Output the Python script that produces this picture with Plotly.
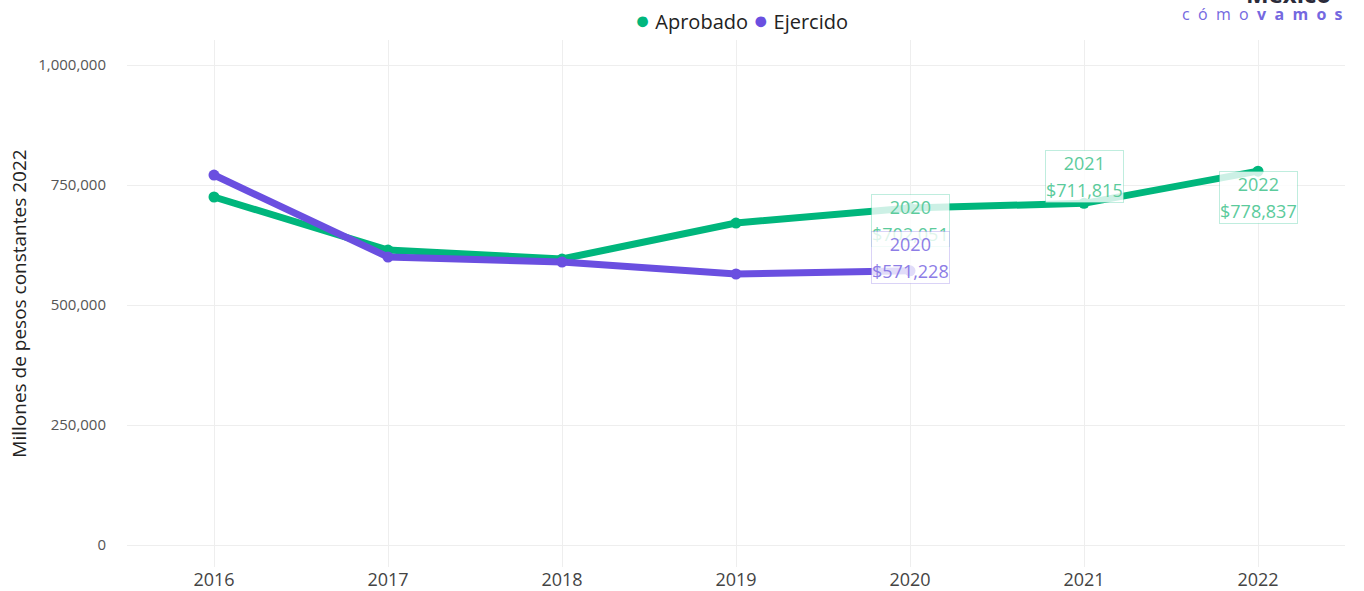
import plotly.graph_objects as go

years = [2016, 2017, 2018, 2019, 2020, 2021, 2022]
aprobado = [725000, 614500, 595800, 670800, 702051, 711815, 778837]
ejercido_years = [2016, 2017, 2018, 2019, 2020]
ejercido = [770800, 600000, 589600, 564600, 571228]

GREEN = "#00b67c"
PURPLE = "#6a4fe0"
FONT = "Open Sans"

fig = go.Figure()
fig.add_trace(go.Scatter(x=years, y=aprobado, name="Aprobado", mode="lines+markers",
                         line=dict(color=GREEN, width=7), marker=dict(size=11, color=GREEN)))
fig.add_trace(go.Scatter(x=ejercido_years, y=ejercido, name="Ejercido", mode="lines+markers",
                         line=dict(color=PURPLE, width=7), marker=dict(size=11, color=PURPLE)))

def label(x, y, color, border, shift):
    fig.add_annotation(x=x, y=y,
                       text=f"<span style='font-size:18px'>{x}</span><br><span style='font-size:18px'>${y:,.0f}</span>",
                       showarrow=False, yanchor="middle", yshift=shift,
                       font=dict(family=FONT, size=21, color=color),
                       bgcolor="rgba(255,255,255,0.8)", bordercolor=border, borderwidth=1,
                       borderpad=0)

label(2020, aprobado[4], "#5ccb9c", "rgba(0,182,124,0.25)", -12)
label(2021, aprobado[5], "#5ccb9c", "rgba(0,182,124,0.25)", 27)
label(2022, aprobado[6], "#5ccb9c", "rgba(0,182,124,0.25)", -26)
label(2020, ejercido[4], "#8d7de6", "rgba(106,79,224,0.25)", 13)

# legend drawn as text (dot + name)
fig.add_annotation(xref="paper", yref="paper", x=(741 - 127) / 1218, y=(567 - 19) / 527,
                   xanchor="center", yanchor="middle",
                   text=(f"<span style='color:{GREEN};font-size:25px'>●</span> Aprobado "
                         f"<span style='color:{PURPLE};font-size:25px'>●</span> Ejercido"),
                   showarrow=False, font=dict(family=FONT, size=20, color="#222"))

# logo
sp = "\u00a0 "
fig.add_annotation(xref="paper", yref="paper", x=1.0, y=(567 - 14) / 527, xanchor="right", yanchor="middle",
                   text=sp.join("cómo") + sp + "<b>" + sp.join("vamos") + "</b>", showarrow=False,
                   font=dict(family=FONT, size=16, color="#7468e0"))
fig.add_annotation(xref="paper", yref="paper", x=0.99, y=(567 + 7) / 527, xanchor="right", yanchor="middle",
                   text="<b>México</b>", showarrow=False,
                   font=dict(family=FONT, size=24, color="#2b2b3a"))

fig.update_layout(
    width=1364, height=591,
    margin=dict(l=127, r=19, t=40, b=24),
    plot_bgcolor="white", paper_bgcolor="white",
    font=dict(family=FONT, color="#333"),
    showlegend=False,
)
fig.update_xaxes(range=[2015.5, 2022.5], tickvals=years, ticktext=[str(y) for y in years],
                 showgrid=True, gridcolor="#eeeeee", zeroline=False, automargin=False,
                 tickfont=dict(family=FONT, size=18, color="#444"))
fig.update_yaxes(range=[-45833, 1052083], tickvals=[0, 250000, 500000, 750000, 1000000],
                 tickformat=",", showgrid=True, gridcolor="#eeeeee", zeroline=False, automargin=True,
                 ticklabelstandoff=20,
                 tickfont=dict(family=FONT, size=15, color="#555"),
                 title=dict(text="Millones de pesos constantes 2022",
                            font=dict(family=FONT, size=19, color="#222"), standoff=6))

fig.write_html("out.html", config={"displayModeBar": False},
               post_script="document.body.style.margin='0';")
